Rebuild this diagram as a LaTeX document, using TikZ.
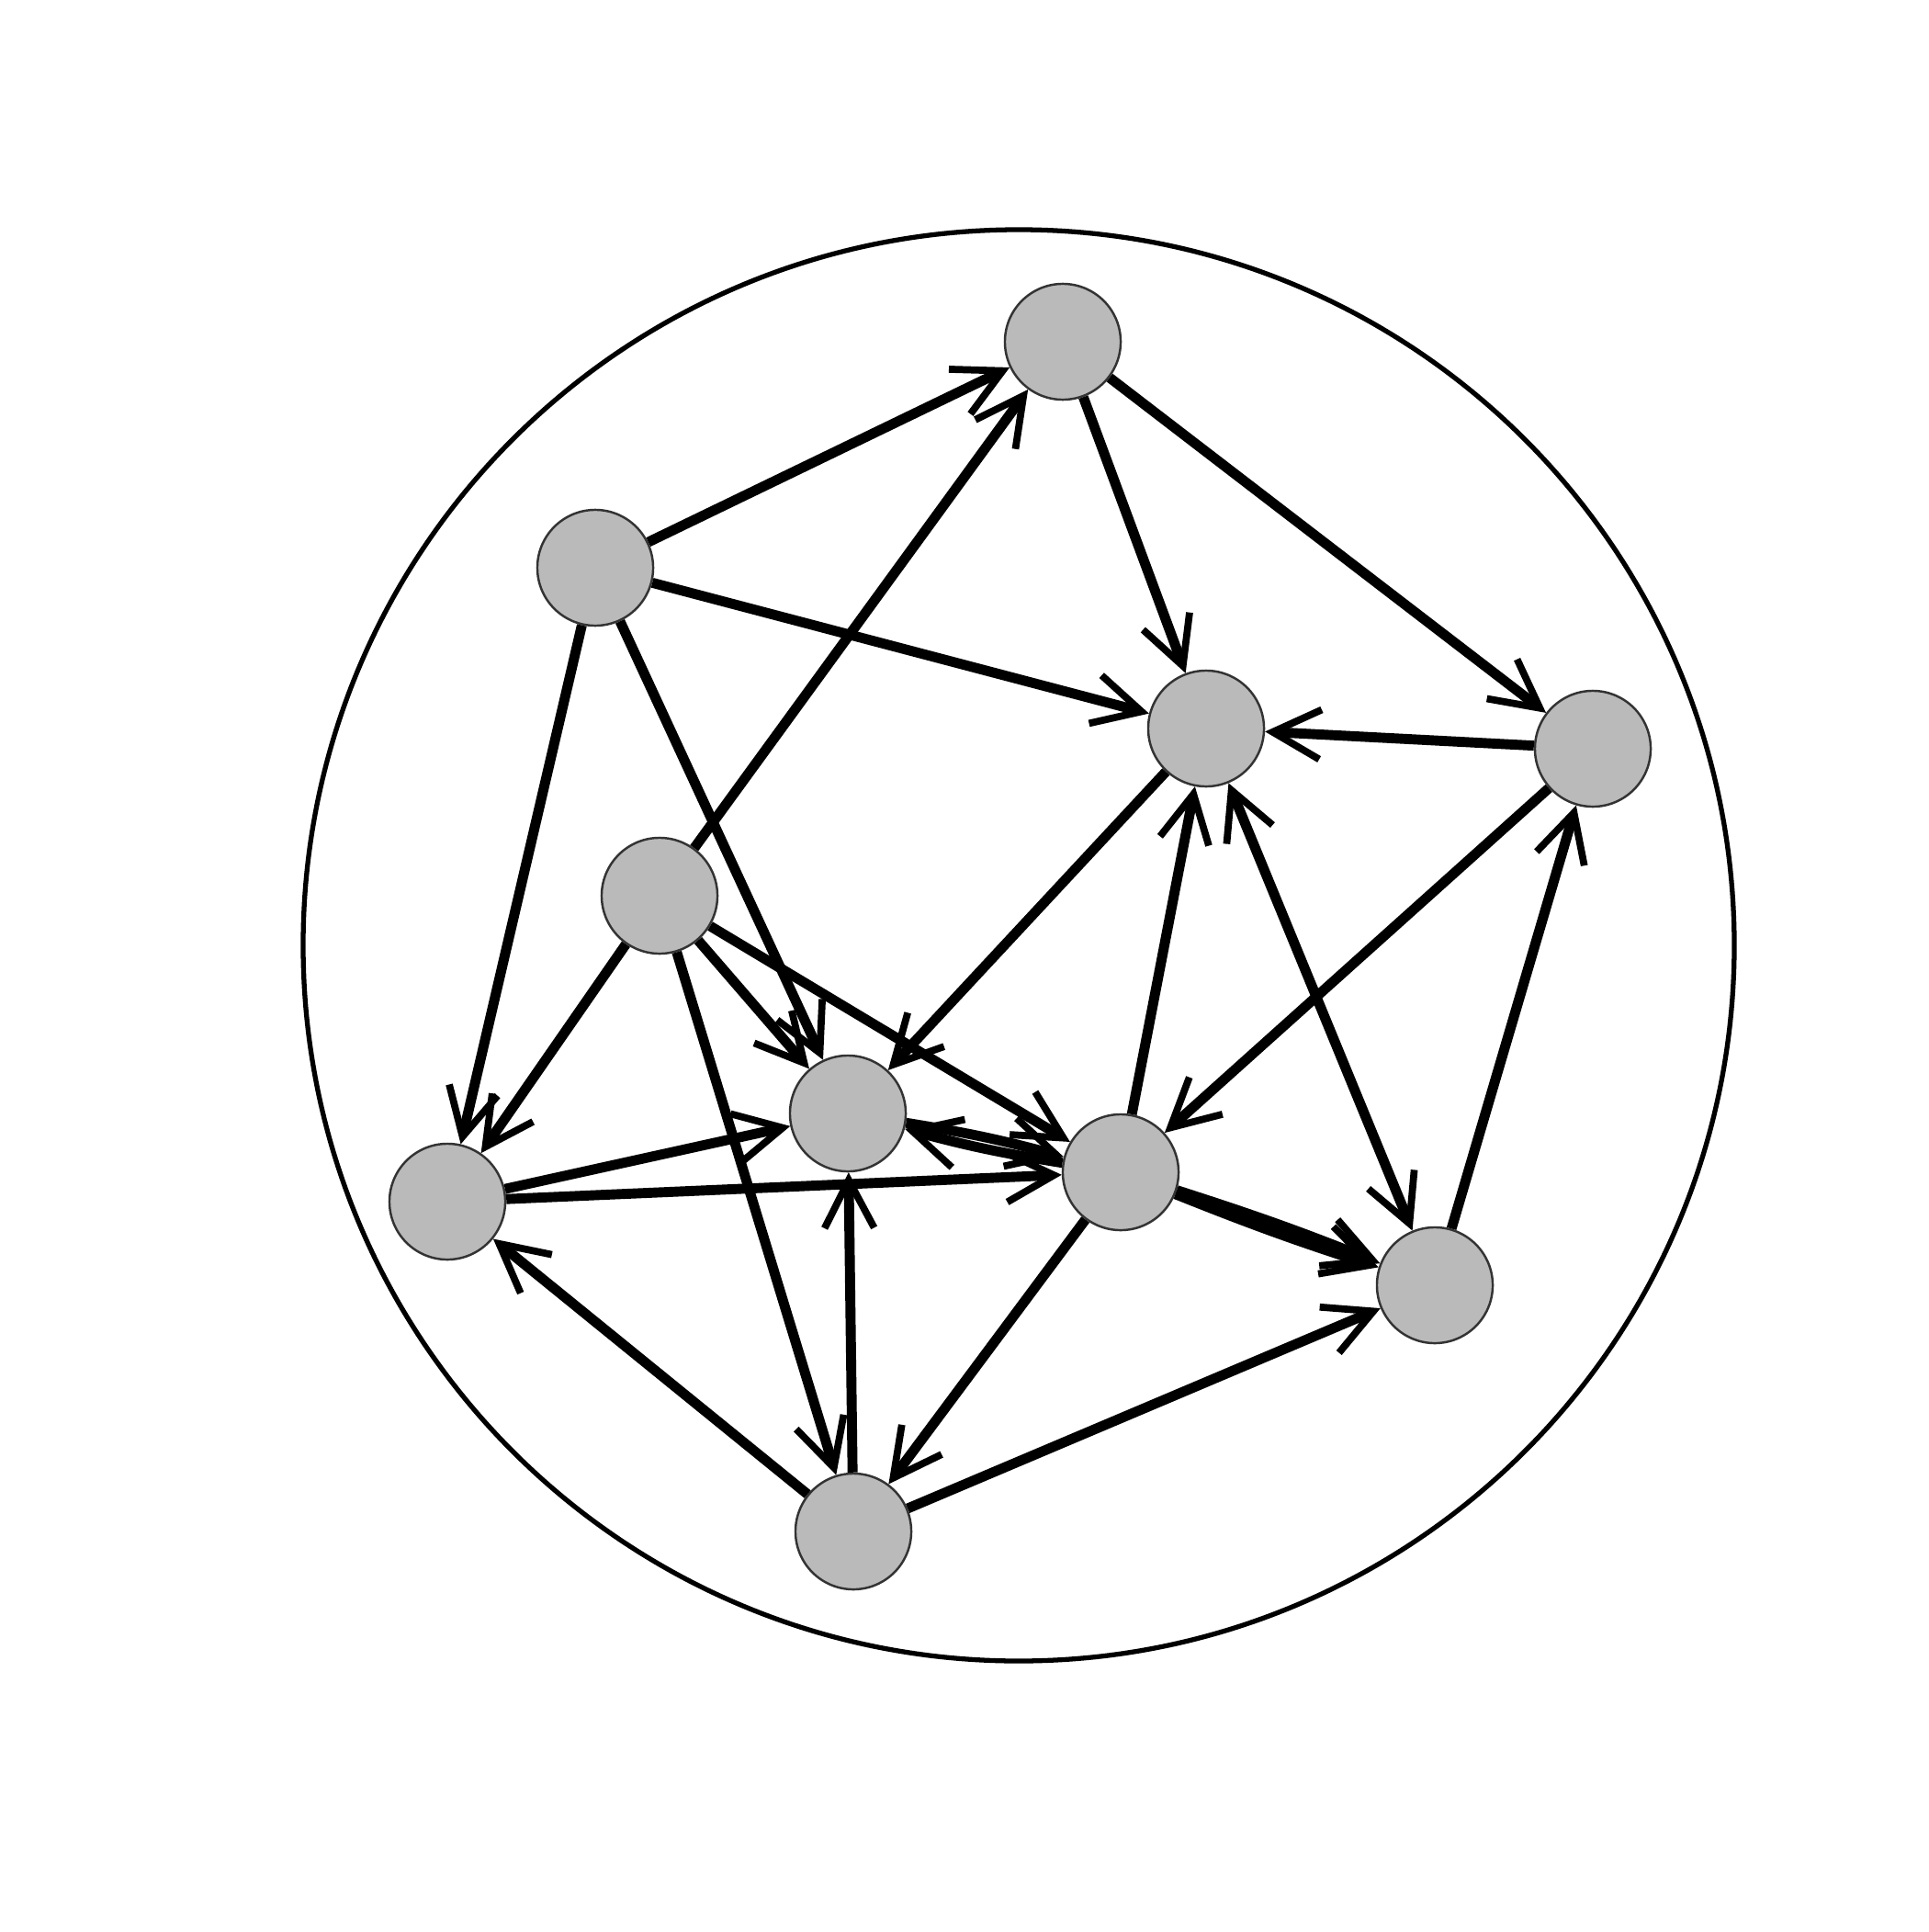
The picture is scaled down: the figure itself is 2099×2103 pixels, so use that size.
\documentclass[tikz,border=0pt]{standalone}
\usetikzlibrary{arrows.meta}

\begin{document}
\begin{tikzpicture}[x=0.01cm, y=-0.01cm,
    punta/.tip={Straight Barb[length=0.52cm, width=0.54cm, line width=2.2pt]},
    vertice/.style={circle, draw=black!80, fill=black!27, line width=0.7pt, minimum size=1.26cm, inner sep=0pt},
    flecha/.style={line width=3.1pt, -punta},
    doble/.style={line width=3.1pt, punta-punta}]
	\useasboundingbox (0,0) rectangle (2099,2103);

	% Dibujar el circulo exterior
	\draw[line width=1.5pt] (1109,1029) circle (779);

	% Dibujar los vertices
	\node[vertice] (a) at (1157,372) {};
	\node[vertice] (b) at (648,618) {};
	\node[vertice] (c) at (1313,793) {};
	\node[vertice] (d) at (1734,815) {};
	\node[vertice] (e) at (718,975) {};
	\node[vertice] (f) at (923,1212) {};
	\node[vertice] (g) at (1220,1276) {};
	\node[vertice] (h) at (487,1308) {};
	\node[vertice] (i) at (1562,1399) {};
	\node[vertice] (j) at (929,1667) {};

	% Dibujar las aristas
	\draw[flecha] (b) -- (a);
	\draw[flecha] (b) -- (c);
	\draw[flecha] (b) -- (h);
	\draw[flecha] (b) -- (f);
	\draw[flecha] (e) -- (a);
	\draw[flecha] (e) -- (h);
	\draw[flecha] (e) -- (f);
	\draw[flecha] (e) -- (g);
	\draw[flecha] (e) -- (j);
	\draw[flecha] (a) -- (c);
	\draw[flecha] (a) -- (d);
	\draw[flecha] (d) -- (c);
	\draw[flecha] (c) -- (f);
	\draw[flecha] (g) -- (c);
	\draw[doble] (c) -- (i);
	\draw[flecha] (d) -- (g);
	\draw[flecha] (i) -- (d);
	\draw[flecha] (h) -- (f);
	\draw[flecha] (h) -- (g);
	\draw[flecha] (g) to[bend left=3] (f);
	\draw[flecha] (f) to[bend left=3] (g);
	\draw[flecha] (g) to[bend left=2] (i);
	\draw[flecha] (g) to[bend right=2] (i);
	\draw[flecha] (g) -- (j);
	\draw[flecha] (j) -- (f);
	\draw[flecha] (j) -- (h);
	\draw[flecha] (j) -- (i);
\end{tikzpicture}
\end{document}
